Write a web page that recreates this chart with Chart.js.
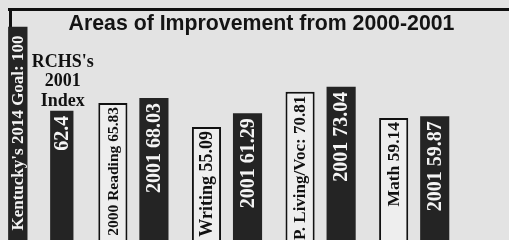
<!DOCTYPE html>
<html><head><meta charset="utf-8">
<script src="https://cdn.jsdelivr.net/npm/chart.js@4/dist/chart.umd.min.js"></script>
<style>
html,body{margin:0;padding:0;width:509px;height:240px;overflow:hidden;background:#e3e3e3;}
#wrap{position:absolute;left:-7px;top:0;width:517px;height:251px;}
canvas{display:block;}
</style></head><body>
<div id="wrap"><canvas id="c" width="517" height="251"></canvas></div>
<script>
const chartTitle = 'Areas of Improvement from 2000-2001';
const categories = ['Index', 'Reading', 'Writing', 'Practical Living/Vocational', 'Math'];
const goalValue = [100];
const indexValue = [62.4];
const values2000 = [65.83, 55.09, 70.81, 59.14];
const values2001 = [68.03, 61.29, 73.04, 59.87];
const goalLabels = ["Kentucky's 2014 Goal: 100"];
const indexLabels = ['62.4'];
const labels2000 = ['2000 Reading 65.83', 'Writing 55.09', 'P. Living/Voc: 70.81', 'Math 59.14'];
const labels2001 = ['2001 68.03', '2001 61.29', '2001 73.04', '2001 59.87'];
const indexCaption = ["RCHS's", '2001', 'Index'];

const DARK = '#242424';
const LIGHT = '#eeeeee';
const SERIF = '"Liberation Serif", "DejaVu Serif", serif';

// first group occupies category 0, subject groups occupy categories 1..4
const padFirst = arr => arr.concat([null, null, null, null]);
const padRest = arr => [null].concat(arr);

const datasetLabels = [padFirst(goalLabels), padFirst(indexLabels), padRest(labels2000), padRest(labels2001)];
const labelSizes = [17, 20, 17.5, 20];
const labelDark = [true, true, false, true];
const labelPad = [9, 5, 4, 5];
const fontFix2000 = [null, 15.5, 18, 17, 17.5];

const decor = {
  id: 'decor',
  beforeDatasetsDraw(chart) {
    const ctx = chart.ctx;
    ctx.save();
    ctx.fillStyle = '#111';
    ctx.fillRect(15, 8, 517 - 15, 3);
    ctx.fillRect(16, 8, 3, 240);
    ctx.fillStyle = '#141414';
    ctx.font = 'bold 21.3px "Liberation Sans", Arial, sans-serif';
    ctx.textAlign = 'center';
    ctx.textBaseline = 'alphabetic';
    ctx.fillText(chartTitle, 268.5, 30);
    ctx.restore();
  },
  afterDatasetsDraw(chart) {
    const ctx = chart.ctx;
    chart.data.datasets.forEach((ds, di) => {
      const meta = chart.getDatasetMeta(di);
      meta.data.forEach((el, i) => {
        const txt = datasetLabels[di][i];
        if (txt === null || ds.data[i] === null) return;
        const p = el.getProps(['x', 'y'], true);
        const size = di === 2 ? fontFix2000[i] : labelSizes[di];
        ctx.save();
        ctx.translate(p.x + 1, p.y + labelPad[di]);
        ctx.rotate(-Math.PI / 2);
        ctx.font = 'bold ' + size + 'px ' + SERIF;
        ctx.fillStyle = labelDark[di] ? '#f4f4f4' : '#111';
        ctx.textAlign = 'right';
        ctx.textBaseline = 'middle';
        ctx.fillText(txt, 0, 0);
        ctx.restore();
      });
    });
    // caption above RCHS index bar
    const el = chart.getDatasetMeta(1).data[0];
    const p = el.getProps(['x', 'y'], true);
    ctx.save();
    ctx.font = 'bold 18px ' + SERIF;
    ctx.fillStyle = '#111';
    ctx.textAlign = 'center';
    ctx.textBaseline = 'alphabetic';
    indexCaption.forEach((t, k) => {
      ctx.fillText(t, p.x + 1, p.y - 5 - (indexCaption.length - 1 - k) * 19.5);
    });
    ctx.restore();
  }
};

new Chart(document.getElementById('c'), {
  type: 'bar',
  data: {
    labels: categories,
    datasets: [
      {
        label: "Kentucky's 2014 Goal",
        data: padFirst(goalValue),
        backgroundColor: DARK,
        borderWidth: 0,
        barPercentage: 0.44,
        categoryPercentage: 0.94,
        skipNull: true
      },
      {
        label: "RCHS's 2001 Index",
        data: padFirst(indexValue),
        backgroundColor: DARK,
        borderWidth: 0,
        barPercentage: 0.53,
        categoryPercentage: 0.94,
        skipNull: true
      },
      {
        label: '2000',
        data: padRest(values2000),
        backgroundColor: LIGHT,
        borderColor: '#111',
        borderWidth: 2,
        borderSkipped: 'bottom',
        barPercentage: 0.71,
        categoryPercentage: 0.877,
        skipNull: true
      },
      {
        label: '2001',
        data: padRest(values2001),
        backgroundColor: DARK,
        borderWidth: 0,
        barPercentage: 0.71,
        categoryPercentage: 0.877,
        skipNull: true
      }
    ]
  },
  options: {
    responsive: false,
    animation: false,
    layout: { padding: { left: 0, right: 49, top: 26.5, bottom: 0.7 } },
    scales: {
      x: { display: false },
      y: { display: false, min: 0, max: 100 }
    },
    plugins: { legend: { display: false }, tooltip: { enabled: false } }
  },
  plugins: [decor]
});
</script>
</body></html>
